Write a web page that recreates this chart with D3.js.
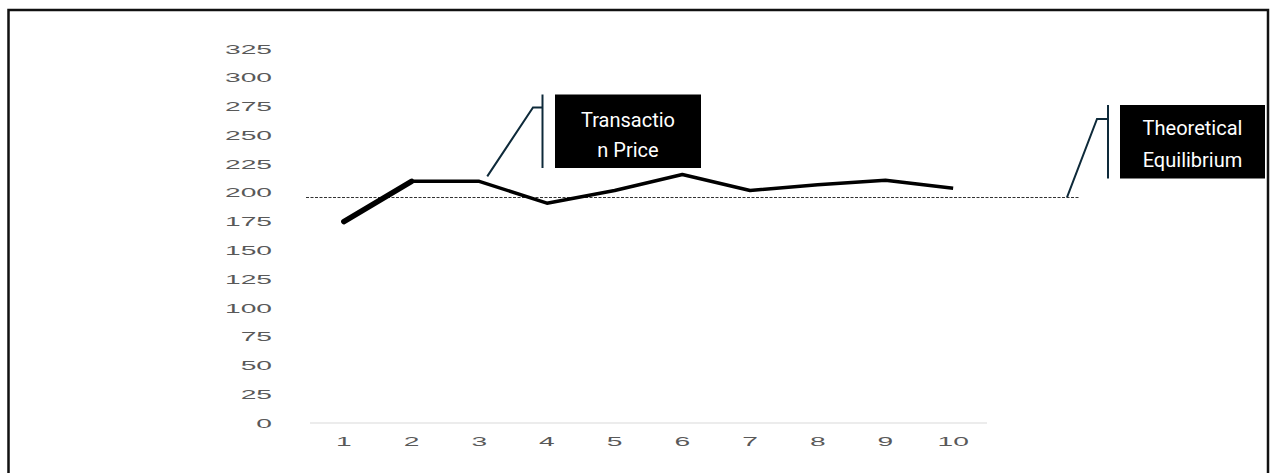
<!DOCTYPE html>
<html>
<head>
<meta charset="utf-8">
<script src="https://cdn.jsdelivr.net/npm/d3@7"></script>
<style>
  html, body { margin: 0; padding: 0; background: #fff; }
  svg { display: block; }
</style>
</head>
<body>
<svg id="chart" width="1272" height="473"></svg>
<script>
// ---- data ----
const categories = ["1", "2", "3", "4", "5", "6", "7", "8", "9", "10"];
const transactionPrice = [175, 210, 210, 191, 202, 216, 202, 207, 211, 204];
const equilibrium = 196;
const yTicks = [0, 25, 50, 75, 100, 125, 150, 175, 200, 225, 250, 275, 300, 325];
const callouts = [
  { lines: ["Transactio", "n Price"] },
  { lines: ["Theoretical", "Equilibrium"] }
];

const svg = d3.select("#chart");

// frame
svg.append("path")
  .attr("d", "M8.5,480 V10 H1268 V480")
  .attr("fill", "none").attr("stroke", "#111").attr("stroke-width", 2.5);

const x = d3.scaleBand().domain(categories).range([310, 987]).padding(0);
const y = d3.scaleLinear().domain([0, 325]).range([423, 49]);
const cx = c => x(c) + x.bandwidth() / 2;

// baseline axis
svg.append("line")
  .attr("x1", x.range()[0]).attr("x2", x.range()[1])
  .attr("y1", y(0)).attr("y2", y(0))
  .attr("stroke", "#d9d9d9").attr("stroke-width", 1.2);

const labelStyle = sel => sel
  .attr("font-family", "'Liberation Sans', Arial, sans-serif")
  .attr("font-size", 12)
  .attr("fill", "#595959");

// y axis labels (stretched wide digits)
const yAxis = d3.axisLeft(y).tickValues(yTicks).tickSize(0).tickFormat(d3.format("d"));
const gy = svg.append("g").attr("transform", "translate(272,0)").call(yAxis);
gy.select(".domain").remove();
gy.selectAll(".tick text").each(function() {
  const t = d3.select(this);
  t.attr("x", 0).attr("dy", null).attr("dominant-baseline", "central")
   .attr("text-anchor", "end").attr("transform", "scale(2.35,1)");
  labelStyle(t);
});

// x axis labels
const xAxis = d3.axisBottom(x).tickSize(0);
const gx = svg.append("g").attr("transform", "translate(0,442)").call(xAxis);
gx.select(".domain").remove();
gx.selectAll(".tick text").each(function() {
  const t = d3.select(this);
  t.attr("y", 0).attr("dy", null).attr("dominant-baseline", "central")
   .attr("text-anchor", "middle").attr("transform", "scale(2.35,1)");
  labelStyle(t);
});
gx.selectAll(".tick").each(function(d) {
  d3.select(this).attr("transform", `translate(${cx(d)},0)`);
});

// equilibrium dashed line
svg.append("line")
  .attr("x1", 306).attr("x2", 1080)
  .attr("y1", y(equilibrium)).attr("y2", y(equilibrium))
  .attr("stroke", "#333").attr("stroke-width", 1.1)
  .attr("stroke-dasharray", "3,1.5");

// price line
const pts = categories.map((c, i) => [cx(c), y(transactionPrice[i])]);
const line = d3.line();
svg.append("path")
  .attr("d", line(pts))
  .attr("fill", "none").attr("stroke", "#000")
  .attr("stroke-width", 3.5).attr("stroke-linejoin", "round");
svg.append("path")
  .attr("d", line(pts.slice(0, 2)))
  .attr("fill", "none").attr("stroke", "#000")
  .attr("stroke-width", 5.5).attr("stroke-linecap", "round");

// callouts
const navy = "#0e2a3a";
function callout(box, bracketX, tickY, tickLeft, end, lines, lineYs) {
  svg.append("rect")
    .attr("x", box.x).attr("y", box.y).attr("width", box.w).attr("height", box.h)
    .attr("fill", "#000");
  svg.append("line")
    .attr("x1", bracketX).attr("x2", bracketX)
    .attr("y1", box.y).attr("y2", box.y + box.h)
    .attr("stroke", navy).attr("stroke-width", 2);
  svg.append("polyline")
    .attr("points", `${bracketX},${tickY} ${tickLeft},${tickY} ${end[0]},${end[1]}`)
    .attr("fill", "none").attr("stroke", navy).attr("stroke-width", 2);
  lines.forEach((s, i) => {
    svg.append("text")
      .attr("x", box.x + box.w / 2).attr("y", lineYs[i])
      .attr("text-anchor", "middle")
      .attr("font-family", "Roboto, 'Noto Sans', sans-serif")
      .attr("font-size", 20)
      .attr("fill", "#fff")
      .text(s);
  });
}

callout({ x: 555, y: 94.5, w: 146, h: 73.5 }, 542.5, 107.5, 533,
  [cx("3") + 8, y(transactionPrice[2]) - 5], callouts[0].lines, [126.5, 156.5]);

callout({ x: 1120, y: 105, w: 145, h: 73.5 }, 1108, 119, 1097,
  [1067, y(equilibrium)], callouts[1].lines, [135, 166.5]);
</script>
</body>
</html>
